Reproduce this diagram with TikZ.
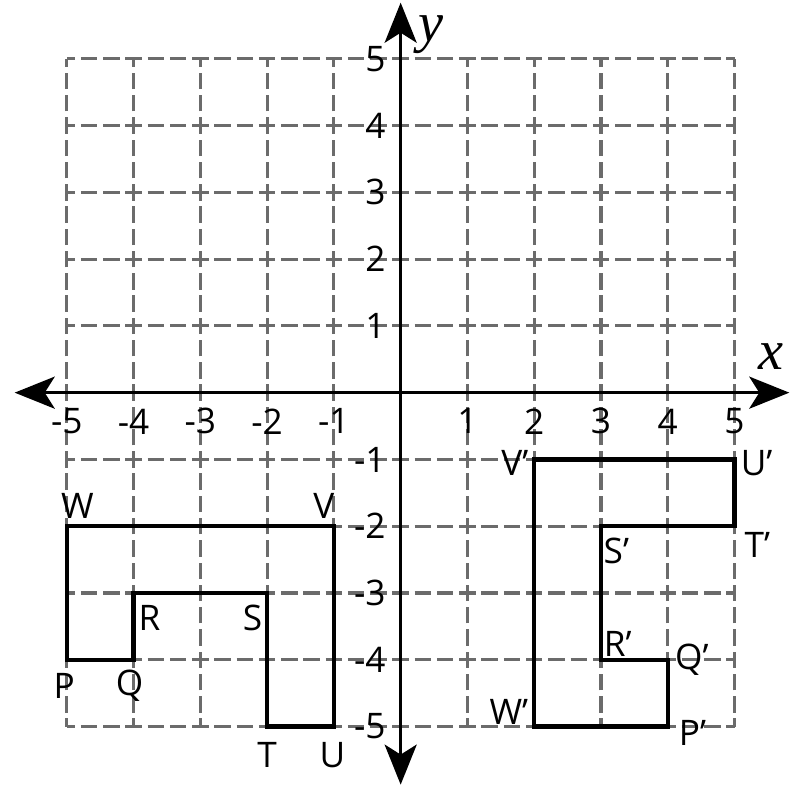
\documentclass[tikz,border=0pt]{standalone}
\usepackage{fontspec}
\setmainfont{Open Sans}
\newfontfamily\axisfont{Liberation Serif}
\usepackage{tikz}
\usetikzlibrary{arrows.meta}
\definecolor{gridgray}{HTML}{6B6B6B}

\begin{document}
\begin{tikzpicture}[
  font=\fontsize{15}{18}\selectfont,
  gridline/.style={draw=gridgray, line width=1.3pt,
                   dash pattern=on 7pt off 2.4843pt, dash phase=3.5pt},
  axis/.style={line width=1.3pt,
               {Stealth[length=6mm, width=4.8mm, inset=1.5mm]}-{Stealth[length=6mm, width=4.8mm, inset=1.5mm]}},
  figline/.style={line width=1.8pt, line join=miter},
  tick/.style={inner sep=0pt},
  vlbl/.style={inner sep=0pt},
  axlbl/.style={inner sep=0pt, font=\axisfont\itshape\fontsize{24}{28}\selectfont}]
\useasboundingbox (-6.0,-6.09) rectangle (5.98,5.88);
\draw[gridline] (-5,-5) grid (5,5);
% axes
\coordinate (xmin) at (-5.78,0);
\coordinate (xmax) at (5.82,0);
\coordinate (ymin) at (0,-5.87);
\coordinate (ymax) at (0,5.84);
\draw[axis] (xmin) -- (xmax);
\draw[axis] (ymin) -- (ymax);
\node[axlbl] (xlab) at (5.54,0.54) {x};
\node[axlbl] (ylab) at (0.45,5.36) {y};
\foreach \i in {-5,...,-1,1,2,...,5} \node[tick] (xn\i) at (\i,-0.43) {\i};
\foreach \j in {-5,...,-1,1,2,...,5} \node[tick, anchor=east] (yn\j) at (-0.22,\j) {\j};
% original figure
\coordinate (P) at (-5,-4);
\coordinate (Q) at (-4,-4);
\coordinate (R) at (-4,-3);
\coordinate (S) at (-2,-3);
\coordinate (T) at (-2,-5);
\coordinate (U) at (-1,-5);
\coordinate (V) at (-1,-2);
\coordinate (W) at (-5,-2);
\draw[figline] (P) -- (Q) -- (R) -- (S) -- (T) -- (U) -- (V) -- (W) -- cycle;
\node[vlbl] (lP) at (-5.04,-4.39) {P};
\node[vlbl] (lQ) at (-4.06,-4.39) {Q};
\node[vlbl] (lR) at (-3.76,-3.37) {R};
\node[vlbl] (lS) at (-2.22,-3.37) {S};
\node[vlbl] (lT) at (-2.0,-5.43)  {T};
\node[vlbl] (lU) at (-1.02,-5.43) {U};
\node[vlbl] (lV) at (-1.15,-1.69) {V};
\node[vlbl] (lW) at (-4.84,-1.69) {W};
% image
\coordinate (Pp) at (4,-5);
\coordinate (Qp) at (4,-4);
\coordinate (Rp) at (3,-4);
\coordinate (Sp) at (3,-2);
\coordinate (Tp) at (5,-2);
\coordinate (Up) at (5,-1);
\coordinate (Vp) at (2,-1);
\coordinate (Wp) at (2,-5);
\draw[figline] (Pp) -- (Qp) -- (Rp) -- (Sp) -- (Tp) -- (Up) -- (Vp) -- (Wp) -- cycle;
\node[vlbl] (lPp) at (4.37,-5.09) {P’};
\node[vlbl] (lQp) at (4.36,-4.0)  {Q’};
\node[vlbl] (lRp) at (3.25,-3.76) {R’};
\node[vlbl] (lSp) at (3.23,-2.37) {S’};
\node[vlbl] (lTp) at (5.34,-2.28) {T’};
\node[vlbl] (lUp) at (5.33,-1.05) {U’};
\node[vlbl] (lVp) at (1.71,-1.05) {V’};
\node[vlbl] (lWp) at (1.62,-4.78) {W’};
\end{tikzpicture}
\end{document}
